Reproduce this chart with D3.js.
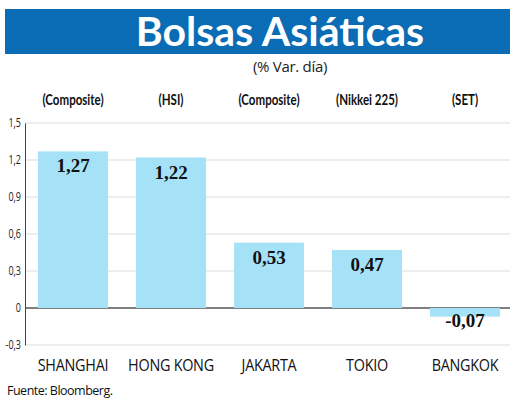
<!DOCTYPE html>
<html>
<head>
<meta charset="utf-8">
<script src="https://cdn.jsdelivr.net/npm/d3@7"></script>
<style>
body{margin:0;background:#fff;}
svg{display:block;}
</style>
</head>
<body>
<svg id="chart" width="520" height="414"></svg>
<script>
// datos
let mercados = ["SHANGHAI","HONG KONG","JAKARTA","TOKIO","BANGKOK"];
let indices = ["(Composite)","(HSI)","(Composite)","(Nikkei 225)","(SET)"];
let variacion = [1.27, 1.22, 0.53, 0.47, -0.07];
let ticksY = [-0.3, 0, 0.3, 0.6, 0.9, 1.2, 1.5];

let svg = d3.select("#chart");
let coma = function(v, dec){
	return v.toFixed(dec).replace(".", ",");
};

// titulo
svg.append("rect")
	.attr("x",5).attr("y",9).attr("width",505).attr("height",45)
	.style("fill","#0a6cb4");
svg.append("text")
	.attr("x",280).attr("y",46)
	.attr("text-anchor","middle")
	.style("font-family","Lato, 'Open Sans', sans-serif")
	.style("font-weight","bold")
	.style("font-size","41px")
	.style("fill","#fff")
	.text("Bolsas Asiáticas");
svg.append("text")
	.attr("x",290).attr("y",72)
	.attr("text-anchor","middle")
	.style("font-family","'Open Sans', sans-serif")
	.style("font-size","15px")
	.style("letter-spacing","-0.3px")
	.style("fill","#222")
	.text("(% Var. día)");

let x = d3.scaleBand()
	.domain(mercados)
	.range([24,514])
	.paddingInner(0.286)
	.paddingOuter(0.143);

let y = d3.scaleLinear()
	.domain([-0.3,1.5])
	.range([345,123]);

// rejilla
svg.append("g")
	.selectAll("line")
	.data(ticksY)
	.enter()
	.append("line")
	.attr("x1",25).attr("x2",510)
	.attr("y1",d => y(d)).attr("y2",d => y(d))
	.style("stroke",d => d === 0 ? "#555" : "#ddd")
	.style("stroke-width",d => d === 0 ? 1.3 : 1.2);

// eje y
let ejeY = svg.append("g")
	.attr("transform","translate(25,0)")
	.call(d3.axisLeft(y).tickValues(ticksY).tickSize(0).tickPadding(0).tickFormat(d => d === 0 ? "0" : coma(d,1)));
ejeY.select(".domain").style("stroke","#444");
ejeY.selectAll(".tick text")
	.attr("x",0)
	.attr("transform","translate(-4,0) scale(0.75,1)")
	.style("font-family","'Open Sans', sans-serif")
	.style("font-size","12px")
	.style("fill","#222");

// barras
svg.append("g")
	.selectAll("rect")
	.data(variacion)
	.enter()
	.append("rect")
	.attr("x",(d,i) => x(mercados[i]))
	.attr("width",x.bandwidth())
	.attr("y",d => y(Math.max(0,d)))
	.attr("height",d => Math.abs(y(d)-y(0)))
	.style("fill","#a6e2f7");

// valores
svg.append("g")
	.selectAll("text")
	.data(variacion)
	.enter()
	.append("text")
	.attr("x",(d,i) => x(mercados[i]) + x.bandwidth()/2)
	.attr("y",d => d >= 0 ? y(d) + 21 : y(d) + 10)
	.attr("text-anchor","middle")
	.style("font-family","'Liberation Serif', serif")
	.style("font-weight","bold")
	.style("font-size","19px")
	.style("fill","#111")
	.text(d => coma(d,2));

// indices arriba (texto estrecho)
svg.append("g")
	.selectAll("text")
	.data(indices)
	.enter()
	.append("text")
	.attr("transform",(d,i) => "translate(" + (x(mercados[i]) + x.bandwidth()/2) + ",105) scale(0.72,1)")
	.attr("text-anchor","middle")
	.style("font-family","Lato, sans-serif")
	.style("font-weight","bold")
	.style("font-size","16px")
	.style("fill","#111")
	.text(d => d);

// mercados abajo
svg.append("g")
	.selectAll("text")
	.data(mercados)
	.enter()
	.append("text")
	.attr("transform",d => "translate(" + (x(d) + x.bandwidth()/2) + ",371) scale(0.9,1)")
	.attr("text-anchor","middle")
	.style("font-family","'Open Sans', sans-serif")
	.style("font-size","16px")
	.style("letter-spacing","-0.3px")
	.style("fill","#111")
	.text(d => d);

svg.append("text")
	.attr("x",7).attr("y",395)
	.style("font-family","'Open Sans', sans-serif")
	.style("font-size","12.5px")
	.style("letter-spacing","-0.5px")
	.style("fill","#111")
	.text("Fuente: Bloomberg.");
</script>
</body>
</html>
